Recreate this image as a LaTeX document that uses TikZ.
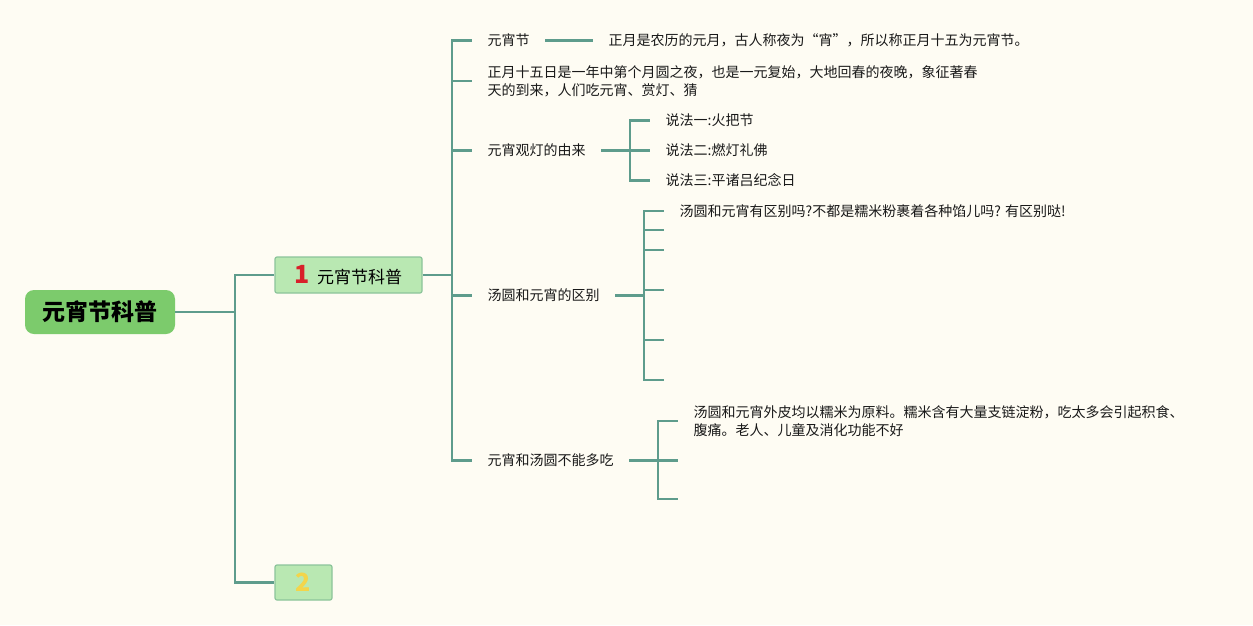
\documentclass[tikz,border=0pt]{standalone}
\usepackage{fontspec}
\setmainfont{Noto Sans CJK SC}
\definecolor{bg}{HTML}{FEFCF3}
\definecolor{rootfill}{HTML}{7CCB6C}
\definecolor{subfill}{HTML}{B9E8B2}
\definecolor{subdraw}{HTML}{8CC49A}
\definecolor{linec}{HTML}{5E9C8C}
\definecolor{numred}{HTML}{D8202A}
\definecolor{numyel}{HTML}{F3D54A}
\tikzset{
  conn/.style={draw=linec, line width=2.2pt},
  leaf/.style={anchor=west, inner xsep=15.5pt, inner ysep=2pt, align=left,
    font=\fontsize{14}{18}\selectfont, text=black!90},
  rootbox/.style={fill=rootfill, rounded corners=9pt, minimum width=150pt,
    minimum height=44pt, font=\fontsize{23}{26}\selectfont\bfseries},
  topicbox/.style={fill=subfill, draw=subdraw, line width=1.2pt, rounded corners=2pt,
    minimum height=36pt}
}
\begin{document}
\begin{tikzpicture}[x=1pt,y=-1pt]
\fill[bg] (0,0) rectangle (1253,625);
\useasboundingbox (0,0) rectangle (1253,625);

% root and main topics
\node[rootbox] (root) at (100,312) {元宵节科普};
\node[topicbox, minimum width=147pt] (n1) at (348.5,275)
  {{\fontsize{25}{26}\selectfont\bfseries\textcolor{numred}{1}}\hspace{7pt}{\fontsize{17}{20}\selectfont 元宵节科普}};
\node[topicbox, minimum width=57pt, minimum height=35pt] (n2) at (303.5,582.5)
  {{\fontsize{25}{26}\selectfont\bfseries\textcolor{numyel}{2}}};

\coordinate (j0) at (235,312);
\draw[conn] (root.east) -- (j0);
\draw[conn] (j0) |- (n1.west);
\draw[conn] (j0) |- (n2.west);

% level 2
\node[leaf] (c1) at (472,40.5) {元宵节};
\node[leaf] (c1d) at (593,40.5) {正月是农历的元月，古人称夜为“宵”，所以称正月十五为元宵节。};
\node[leaf] (c2) at (472,81) {正月十五日是一年中第个月圆之夜，也是一元复始，大地回春的夜晚，象征著春\\天的到来，人们吃元宵、赏灯、猜};
\node[leaf] (c3) at (472,150.5) {元宵观灯的由来};
\node[leaf] (c4) at (472,295.5) {汤圆和元宵的区别};
\node[leaf] (c5) at (472,460.5) {元宵和汤圆不能多吃};

\coordinate (j1) at (452,275);
\draw[conn] (n1.east) -- (j1);
\foreach \c in {c1,c2,c3,c4,c5} \draw[conn] (j1) |- (\c.west);
\draw[conn] (c1.east) -- (c1d.west);

% 元宵观灯的由来
\node[leaf] (c31) at (650,120.5) {说法一:火把节};
\node[leaf] (c32) at (650,150.5) {说法二:燃灯礼佛};
\node[leaf] (c33) at (650,180.5) {说法三:平诸吕纪念日};
\coordinate (j3) at (630,150.5);
\draw[conn] (c3.east) -- (j3);
\foreach \c in {c31,c32,c33} \draw[conn] (j3) |- (\c.west);

% 汤圆和元宵的区别
\node[leaf] (c41) at (664,211) {汤圆和元宵有区别吗?不都是糯米粉裹着各种馅儿吗? 有区别哒!};
\coordinate (e42) at (664,230);
\coordinate (e43) at (664,250);
\coordinate (e44) at (664,290);
\coordinate (e45) at (664,340);
\coordinate (e46) at (664,380);
\coordinate (j4) at (644,295.5);
\draw[conn] (c4.east) -- (j4);
\draw[conn] (j4) |- (c41.west);
\foreach \c in {e42,e43,e44,e45,e46} \draw[conn] (j4) |- (\c);

% 元宵和汤圆不能多吃
\node[leaf] (c51) at (678,421) {汤圆和元宵外皮均以糯米为原料。糯米含有大量支链淀粉，吃太多会引起积食、\\腹痛。老人、儿童及消化功能不好};
\coordinate (e52) at (678,460.5);
\coordinate (e53) at (678,499);
\coordinate (j5) at (658,460.5);
\draw[conn] (c5.east) -- (j5);
\draw[conn] (j5) |- (c51.west);
\foreach \c in {e52,e53} \draw[conn] (j5) |- (\c);
\end{tikzpicture}
\end{document}
